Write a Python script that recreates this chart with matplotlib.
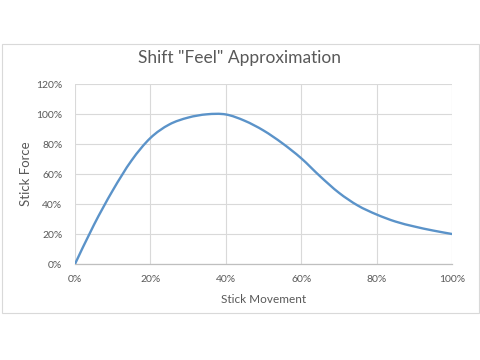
import matplotlib
matplotlib.use("Agg")
from matplotlib import pyplot as plt
from matplotlib.patches import Rectangle, PathPatch
from matplotlib.path import Path
from matplotlib.ticker import FuncFormatter

# values (percent)
movement = [0, 5, 10, 15, 20, 25, 30, 35, 40, 45, 50, 55, 60,
            65, 70, 75, 80, 85, 90, 95, 100]
force = [0, 26, 49, 69, 84, 93, 97.6, 99.8, 99.7, 95.5, 89, 80.5, 70.5,
         58.5, 47.5, 39, 33, 28.3, 25, 22.3, 20]

x_ticks = [0, 20, 40, 60, 80, 100]
y_ticks = [0, 20, 40, 60, 80, 100, 120]

plt.rcParams['font.family'] = ['Lato', 'DejaVu Sans']
text_col = '#595959'
grid_col = '#D9D9D9'


def smooth_path(xs, ys):
    """Excel-like smoothed line: cubic bezier through every data point"""
    verts = [(xs[0], ys[0])]
    codes = [Path.MOVETO]
    n = len(xs)
    for i in range(n - 1):
        x0, y0 = (xs[i - 1], ys[i - 1]) if i > 0 else (xs[i], ys[i])
        x3, y3 = (xs[i + 2], ys[i + 2]) if i + 2 < n else (xs[i + 1], ys[i + 1])
        c1 = (xs[i] + (xs[i + 1] - x0) / 6, ys[i] + (ys[i + 1] - y0) / 6)
        c2 = (xs[i + 1] - (x3 - xs[i]) / 6, ys[i + 1] - (y3 - ys[i]) / 6)
        verts += [c1, c2, (xs[i + 1], ys[i + 1])]
        codes += [Path.CURVE4] * 3
    return Path(verts, codes)


fig = plt.figure(figsize=(4.8, 3.6), dpi=100)
fig.patch.set_facecolor('white')

# chart area border
fig.patches.append(Rectangle((2 / 480, 1 - 313 / 360), 477 / 480, 269 / 360,
                             transform=fig.transFigure, fill=False,
                             edgecolor=grid_col, linewidth=0.8))

ax = fig.add_axes([75 / 480, 1 - 264 / 360, 377 / 480, 180 / 360])
ax.add_patch(PathPatch(smooth_path(movement, force), fill=False,
                       edgecolor='#5B93C9', linewidth=1.7,
                       capstyle='round', joinstyle='round', zorder=3))

ax.set_xlim(0, 100)
ax.set_ylim(0, 120)
ax.set_xticks(x_ticks)
ax.set_yticks(y_ticks)
pct = FuncFormatter(lambda v, p: "%d%%" % v)
ax.xaxis.set_major_formatter(pct)
ax.yaxis.set_major_formatter(pct)

ax.grid(True, color=grid_col, linewidth=0.8)
ax.set_axisbelow(True)
for s in ['top', 'right', 'left']:
    ax.spines[s].set_visible(False)
ax.spines['bottom'].set_color('#BFBFBF')
ax.spines['bottom'].set_linewidth(0.9)
ax.tick_params(length=0, labelsize=7.5, labelcolor=text_col)
ax.tick_params(axis='x', pad=8)
ax.tick_params(axis='y', pad=9)

ax.set_xlabel("Stick Movement", fontsize=8.5, color=text_col, labelpad=7)
ax.set_ylabel("Stick Force", fontsize=9.5, color=text_col, labelpad=3)

fig.text(240 / 480, 1 - 58 / 360, 'Shift "Feel" Approximation',
         ha='center', va='center', fontsize=12.5, color=text_col)

plt.savefig("out.png", dpi=100)
